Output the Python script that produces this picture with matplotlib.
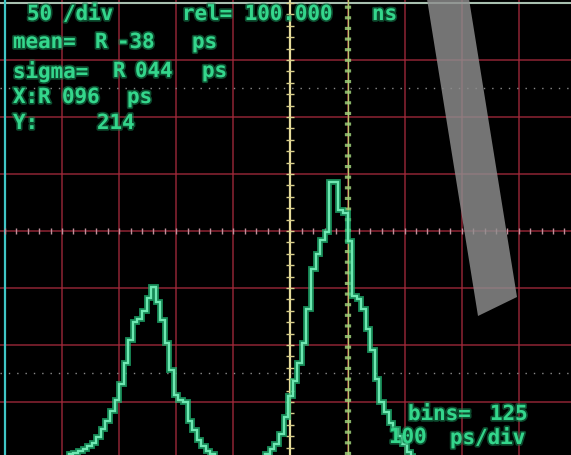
import numpy as np
import matplotlib.pyplot as plt
from matplotlib.patches import Polygon
import matplotlib.patheffects as pe

# Histogram from the scope: 125 bins over 10 div at 100 ps/div, 50 counts/div
BIN_EDGES_PS = np.linspace(0, 1000, 126)
COUNTS = [0] * 12 + [
    1, 2, 4, 5, 7, 9, 11, 14, 19, 26, 33, 42, 52, 66, 84, 104, 120, 123, 130, 141,
    151, 138, 122, 102, 78, 56, 52, 50, 33, 25, 17, 11, 7, 4, 2, 1,
] + [0] * 8 + [
    1, 4, 9, 13, 22, 37, 55, 68, 84, 102, 132, 167, 180, 192, 199, 243, 243, 218, 216, 191,
    143, 140, 132, 114, 96, 70, 50, 41, 32, 26, 20, 13, 6, 3, 1,
]
COUNTS = COUNTS + [0] * (125 - len(COUNTS))

GRID_X = np.arange(0, 1001, 100)      # ps
GRID_Y = np.arange(50, 401, 50)       # counts
CENTER_X = 500
CENTER_Y = 200
CURSOR_X = 600
DOTTED_Y = [75, 325]

# readout texts: (text, x px, y px)
READOUT = [
    ("50", 27, 15), ("/div", 63, 15), ("rel= 100.000", 182, 15), ("ns", 372, 15),
    ("mean=", 13, 43), ("R", 95, 43), ("-38", 117, 43), ("ps", 192, 43),
    ("sigma=", 13, 72), ("R", 113, 72), ("044", 135, 72), ("ps", 202, 72),
    ("X:R", 13, 98), ("096", 62, 98), ("ps", 127, 98),
    ("Y:", 13, 124), ("214", 97, 124),
    ("bins=", 408, 415), ("125", 490, 415),
    ("100", 389, 438), ("ps/div", 450, 438),
]

W, H = 571, 456


def make_scope():
    fig = plt.figure(figsize=(W / 100, H / 100), dpi=100, facecolor='black')
    ax = fig.add_axes([0, 0, 1, 1])
    ax.set_facecolor('black')
    ax.set_xlim(-8.6, 991.4)
    ax.set_ylim(3.5, 403.5)
    ax.set_axis_off()

    # graticule
    for gx in GRID_X:
        ax.axvline(gx, color='#a62a3c', lw=1.1, alpha=0.85, zorder=1)
    for gy in GRID_Y:
        ax.axhline(gy, color='#a62a3c', lw=1.1, alpha=0.85, zorder=1)
    ax.axhline(400, color='#a8c0b0', lw=1.5, zorder=1)
    ax.axvline(0, color='#3fc6c6', lw=1.6, zorder=1)
    for dy in DOTTED_Y:
        ax.axhline(dy, color='#8a8a8a', lw=1.0, ls=(0, (1, 5)), zorder=1)

    # centre axes with minor ticks
    tx = np.arange(0, 1001, 20)
    ax.plot(tx, np.full(len(tx), CENTER_Y), ls='none', marker='|', ms=5,
            mew=1.0, color='#c0909c', zorder=2)
    ax.axvline(CENTER_X, color='#e6dc9a', lw=1.6, zorder=2)
    ty = np.arange(0, 401, 10)
    ax.plot(np.full(len(ty), CENTER_X), ty, ls='none', marker='_', ms=6,
            mew=1.0, color='#d8cf8a', zorder=2)

    # cursor
    ax.axvline(CURSOR_X, color='#b7c46a', lw=1.0, zorder=2)
    ax.axvline(CURSOR_X, color='#9fd07a', lw=4.5, ls=(0, (0.5, 1.2)),
               alpha=0.85, zorder=2)

    # histogram trace
    ax.stairs(COUNTS, BIN_EDGES_PS, color='#1fb874', lw=4.2, alpha=0.75, zorder=4)
    ax.stairs(COUNTS, BIN_EDGES_PS, color='#6ee8b2', lw=1.6, zorder=5)

    # glare on the photo
    glare_px = [(427, 0), (469, 0), (517, 298), (478, 317)]
    glare = Polygon([(x / W, 1 - y / H) for x, y in glare_px], closed=True,
                    transform=fig.transFigure, facecolor='#8e8e8e',
                    edgecolor='none', alpha=0.82, zorder=6)
    ax.add_patch(glare)

    # readout text
    for s, x, y in READOUT:
        fig.text(x / W, 1 - y / H, s, ha='left', va='center',
                 family='DejaVu Sans Mono', fontsize=15, fontweight='bold',
                 color='#34d68c',
                 path_effects=[pe.withStroke(linewidth=2.5, foreground='#178a55',
                                             alpha=0.55)],
                 zorder=7)

    fig.savefig('out.png', dpi=100, facecolor='black')
    plt.close(fig)


if __name__ == '__main__':
    make_scope()
